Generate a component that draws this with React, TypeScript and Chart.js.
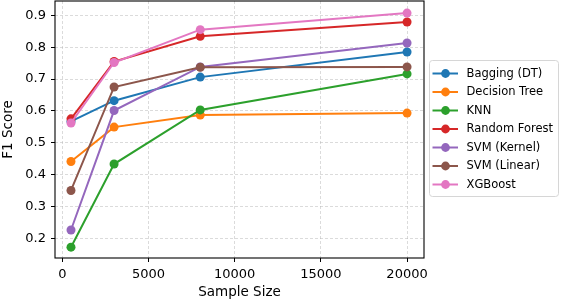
import React, { useEffect, useRef } from "react";
import { Chart, registerables } from "chart.js";

Chart.register(...registerables);

const sampleSizes = [500, 3000, 8000, 20000];
const seriesNames = ["Bagging (DT)", "Decision Tree", "KNN", "Random Forest", "SVM (Kernel)", "SVM (Linear)", "XGBoost"];
const baggingDT = [0.567, 0.632, 0.706, 0.785];
const decisionTree = [0.441, 0.549, 0.587, 0.593];
const knn = [0.172, 0.433, 0.603, 0.716];
const randomForest = [0.575, 0.755, 0.834, 0.879];
const svmKernel = [0.226, 0.601, 0.738, 0.813];
const svmLinear = [0.350, 0.675, 0.737, 0.738];
const xgboost = [0.562, 0.752, 0.855, 0.907];
const seriesValues = [baggingDT, decisionTree, knn, randomForest, svmKernel, svmLinear, xgboost];
const colors = ["#1f77b4", "#ff7f0e", "#2ca02c", "#d62728", "#9467bd", "#8c564b", "#e377c2"];
const xTicks = [0, 5000, 10000, 15000, 20000];
const yTicks = [0.2, 0.3, 0.4, 0.5, 0.6, 0.7, 0.8, 0.9];

const FONT = "'DejaVu Sans', sans-serif";

const framePlugin = {
  id: "frame",
  afterDatasetsDraw(chart: any) {
    const { ctx, chartArea } = chart;
    ctx.save();
    ctx.strokeStyle = "#000";
    ctx.lineWidth = 1.1;
    ctx.strokeRect(chartArea.left, chartArea.top, chartArea.right - chartArea.left, chartArea.bottom - chartArea.top);
    ctx.restore();
  },
};

const legendPlugin = {
  id: "customLegend",
  afterDraw(chart: any) {
    const ctx = chart.ctx;
    ctx.save();
    const x0 = 429.5, y0 = 60.5, w = 129, h = 136, r = 3;
    ctx.beginPath();
    ctx.moveTo(x0 + r, y0);
    ctx.lineTo(x0 + w - r, y0);
    ctx.quadraticCurveTo(x0 + w, y0, x0 + w, y0 + r);
    ctx.lineTo(x0 + w, y0 + h - r);
    ctx.quadraticCurveTo(x0 + w, y0 + h, x0 + w - r, y0 + h);
    ctx.lineTo(x0 + r, y0 + h);
    ctx.quadraticCurveTo(x0, y0 + h, x0, y0 + h - r);
    ctx.lineTo(x0, y0 + r);
    ctx.quadraticCurveTo(x0, y0, x0 + r, y0);
    ctx.closePath();
    ctx.fillStyle = "rgba(255,255,255,0.8)";
    ctx.fill();
    ctx.strokeStyle = "#d6d6d6";
    ctx.lineWidth = 1;
    ctx.stroke();
    seriesNames.forEach((name, i) => {
      const y = 73.5 + i * 18.5;
      ctx.strokeStyle = colors[i];
      ctx.lineWidth = 2;
      ctx.beginPath();
      ctx.moveTo(432.5, y);
      ctx.lineTo(458, y);
      ctx.stroke();
      ctx.fillStyle = colors[i];
      ctx.beginPath();
      ctx.arc(445.5, y, 4.4, 0, Math.PI * 2);
      ctx.fill();
      ctx.fillStyle = "#000";
      ctx.font = `11.5px ${FONT}`;
      ctx.textBaseline = "middle";
      ctx.textAlign = "left";
      ctx.fillText(name, 466.5, y + 0.5);
    });
    ctx.restore();
  },
};

export default function App() {
  const ref = useRef<HTMLCanvasElement>(null);
  useEffect(() => {
    if (!ref.current) return;
    const n = seriesNames.length;
    const chart = new Chart(ref.current, {
      type: "line",
      data: {
        datasets: seriesNames.map((name, i) => ({
          label: name,
          data: sampleSizes.map((x, j) => ({ x, y: seriesValues[i][j] })),
          borderColor: colors[i],
          backgroundColor: colors[i],
          pointBackgroundColor: colors[i],
          pointBorderColor: colors[i],
          pointBorderWidth: 0,
          pointRadius: 4.5,
          borderWidth: 2,
          tension: 0,
          fill: false,
          order: n - i,
        })),
      },
      options: {
        responsive: false,
        animation: false,
        events: [],
        layout: { autoPadding: false, padding: { left: 0, top: 1, right: 137, bottom: 0 } },
        plugins: { legend: { display: false }, tooltip: { enabled: false } },
        scales: {
          x: {
            type: "linear",
            min: -428,
            max: 20984,
            afterBuildTicks: (s: any) => { s.ticks = xTicks.map((v) => ({ value: v })); },
            afterFit: (s: any) => { s.height = 42; s.paddingLeft = 0; s.paddingRight = 0; },
            ticks: {
              color: "#000",
              font: { family: FONT, size: 13 },
              padding: 5,
              maxRotation: 0,
              autoSkip: false,
              callback: (v: any) => String(v),
            },
            grid: { color: "rgba(180,180,180,0.6)", lineWidth: 0.8, drawTicks: true, tickLength: 4, tickColor: "#000", tickWidth: 1, tickBorderDash: [] },
            border: { display: false, dash: [3, 2] },
            title: { display: true, text: "Sample Size", color: "#000", font: { family: FONT, size: 13.5 }, padding: { top: 0, bottom: -1 } },
          },
          y: {
            type: "linear",
            min: 0.138,
            max: 0.945,
            afterBuildTicks: (s: any) => { s.ticks = yTicks.map((v) => ({ value: v })); },
            afterFit: (s: any) => { s.width = 55; s.paddingTop = 0; s.paddingBottom = 0; },
            ticks: {
              color: "#000",
              font: { family: FONT, size: 13 },
              padding: 5,
              autoSkip: false,
              callback: (v: any) => Number(v).toFixed(1),
            },
            grid: { color: "rgba(180,180,180,0.6)", lineWidth: 0.8, drawTicks: true, tickLength: 4, tickColor: "#000", tickWidth: 1, tickBorderDash: [] },
            border: { display: false, dash: [3, 2] },
            title: { display: true, text: "F1 Score", color: "#000", font: { family: FONT, size: 13.5 }, padding: { top: 0, bottom: 0 } },
          },
        },
      },
      plugins: [framePlugin, legendPlugin],
    } as any);
    return () => chart.destroy();
  }, []);
  return (
    <div style={{ position: "absolute", left: 0, top: 0, width: 561, height: 300, background: "#fff" }}>
      <canvas ref={ref} width={561} height={300} />
    </div>
  );
}
